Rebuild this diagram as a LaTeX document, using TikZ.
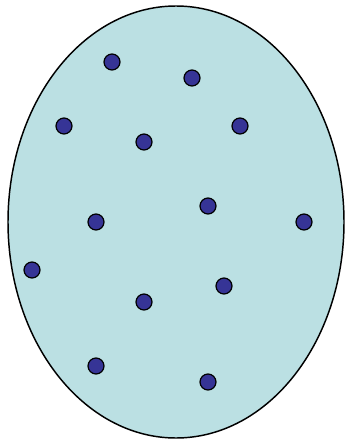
\documentclass[tikz,border=0pt]{standalone}
\usepackage{tikz}
\definecolor{xPool}{RGB}{187,224,227}
\definecolor{xDot}{RGB}{54,52,150}

\begin{document}
\begin{tikzpicture}[x=0.75pt,y=-0.75pt]

    % -------------------------------------------------
    % Fixed frame, same size as the reference
    % -------------------------------------------------
    \useasboundingbox (0,0) rectangle (345,442);

    % -------------------------------------------------
    % Oval region
    % -------------------------------------------------
    \draw[
        draw=black,
        fill=xPool,
        line width=1.1pt
    ] (176,222) ellipse [x radius=168, y radius=216];

    % -------------------------------------------------
    % Scattered points inside the oval
    % -------------------------------------------------
    \foreach \x/\y in {
        112/62, 192/78,
        64/126, 144/142, 240/126,
        208/206, 96/222, 304/222,
        32/270, 224/286, 144/302,
        96/366, 208/382
    }{
        \draw[draw=black, fill=xDot, line width=0.9pt] (\x,\y) circle (8);
    }

\end{tikzpicture}
\end{document}
